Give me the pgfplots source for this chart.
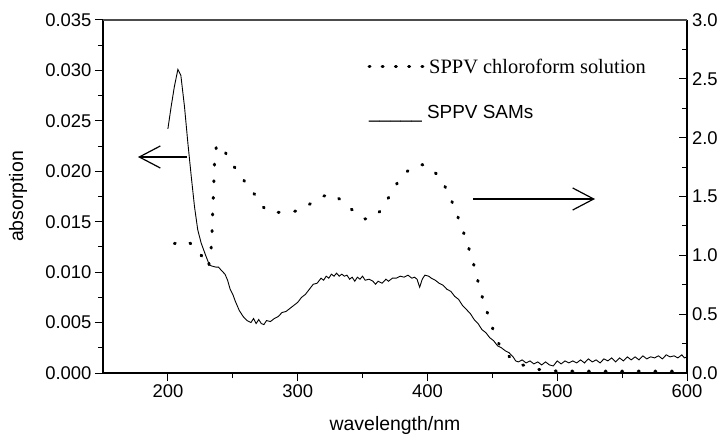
\documentclass[border=0pt]{standalone}
\usepackage{fontspec}
\setmainfont{Liberation Sans}
\newfontfamily\timesfont{Liberation Serif}
\usepackage{pgfplots}
\usepackage{pgfplotstable}
\pgfplotsset{compat=1.18}
\usetikzlibrary{arrows.meta}

% SPPV SAMs, left axis
\pgfplotstableread{
wl a
200 0.0242
202.5 0.0264
205 0.0284
207.7 0.0301
210 0.0295
212.8 0.0264
215.4 0.0228
218 0.0195
220.5 0.0165
223 0.0142
225.6 0.0129
229 0.0117
232 0.0107
234 0.0106
237 0.0105
239 0.0105
241 0.0102
244 0.0098
246 0.0092
248 0.0083
250 0.0078
252 0.0071
255 0.0062
258 0.0056
261 0.0052
264 0.0050
266 0.0054
268 0.0049
270 0.0053
272 0.0049
274 0.0048
276 0.0052
279 0.0051
282 0.0054
285 0.0056
288 0.0060
291 0.0061
294 0.0064
297 0.0067
300 0.0070
303 0.0075
306 0.0078
309 0.0083
312 0.0088
315 0.0089
318 0.0094
320 0.0092
322 0.0096
324 0.0094
326 0.0098
328 0.0096
330 0.0099
332 0.0096
334 0.0098
336 0.0096
338 0.0097
340 0.0093
342 0.0095
344 0.0091
346 0.0095
348 0.0093
350 0.0096
352 0.0092
355 0.0093
358 0.0091
360 0.0088
362 0.0091
365 0.0089
368 0.0093
370 0.0091
373 0.0094
376 0.0094
379 0.0096
382 0.0095
385 0.0097
388 0.0094
390 0.0095
392 0.0093
394 0.0085
396 0.0093
398 0.0097
401 0.0096
403 0.0094
406 0.0092
409 0.0089
412 0.0087
415 0.0083
418 0.0081
421 0.0076
424 0.0073
427 0.0067
430 0.0063
433 0.0059
436 0.0053
439 0.0049
442 0.0043
445 0.0040
448 0.0035
451 0.0032
454 0.0027
457 0.0025
460 0.0022
463 0.0020
466 0.0016
468 0.0012
470 0.0011
473 0.0013
476 0.0010
479 0.0012
482 0.0009
485 0.0011
488 0.0008
491 0.0011
494 0.0008
497 0.0007
500 0.0012
503 0.0009
506 0.0012
509 0.0010
512 0.0012
515 0.0010
518 0.0013
521 0.0010
524 0.0014
527 0.0011
530 0.0013
533 0.0010
536 0.0014
539 0.0012
542 0.0015
545 0.0011
548 0.0015
551 0.0012
554 0.0016
557 0.0013
560 0.0016
563 0.0013
566 0.0017
569 0.0014
572 0.0016
575 0.0015
578 0.0017
581 0.0014
584 0.0018
587 0.0016
590 0.0017
593 0.0015
596 0.0018
598 0.0015
600 0.0016
}\samsdata

% SPPV chloroform solution, right axis
\pgfplotstableread{
wl a
205 1.10
210 1.12
215 1.12
220 1.08
224 1.03
228 0.96
231 0.90
233 0.98
234 1.20
235 1.50
236 1.80
237.5 1.94
240 1.93
243 1.90
249 1.78
255 1.70
259 1.63
264 1.56
268 1.50
272 1.43
276 1.38
282 1.36
288 1.37
295 1.37
301 1.38
307 1.42
313 1.46
319 1.50
325 1.52
329 1.51
333 1.47
338 1.42
344 1.37
348 1.33
352 1.31
356 1.31
360 1.34
364 1.38
368 1.45
371 1.51
375 1.58
378 1.64
384 1.71
390 1.76
396 1.77
402 1.75
407 1.69
412 1.62
415 1.55
418 1.48
421 1.40
423 1.34
427 1.22
431 1.09
435 0.95
438 0.82
441 0.69
445 0.55
449 0.42
453 0.29
457 0.21
461 0.16
467 0.10
473 0.07
480 0.045
486 0.03
493 0.02
499 0.017
520 0.015
550 0.015
575 0.015
600 0.015
}\soldata

\tikzset{dotline/.style={line width=3bp, line cap=round, dash pattern=on 1bp off 15.6bp}}
\newcommand{\tickfont}{\fontsize{18.5}{21}\selectfont}
\newcommand{\labfont}{\fontsize{19.5}{22}\selectfont}

\begin{document}
\begin{tikzpicture}
\path[use as bounding box] (-103bp,-63bp) rectangle (617bp,373bp);

\begin{axis}[
  at={(0,0)}, anchor=south west,
  scale only axis, width=584bp, height=353bp,
  xmin=150, xmax=600, ymin=0, ymax=0.035,
  axis x line*=bottom, axis y line*=left,
  axis line style={-, line width=1.2bp, black},
  tick align=outside,
  major tick length=8bp, minor tick length=5bp,
  tick style={black, line width=1bp},
  xtick={200,300,400,500,600}, minor x tick num=1,
  ytick={0,0.005,0.01,0.015,0.02,0.025,0.03,0.035}, minor y tick num=1,
  scaled y ticks=false,
  tick label style={font=\tickfont},
  /pgf/number format/assume math mode=true,
  yticklabel style={/pgf/number format/.cd, fixed, fixed zerofill, precision=3},
  xlabel={wavelength/nm},
  ylabel={absorption},
  every axis x label/.style={at={(axis description cs:0.5,-0.150)}, anchor=center, font=\labfont},
  every axis y label/.style={at={(axis description cs:-0.1455,0.5)}, rotate=90, anchor=center, font=\labfont},
]
\addplot[black, line width=0.9bp] table[x=wl, y=a] {\samsdata};
\end{axis}

\begin{axis}[
  at={(0,0)}, anchor=south west,
  scale only axis, width=584bp, height=353bp,
  xmin=150, xmax=600, ymin=0, ymax=3,
  axis x line=none, axis y line*=right,
  axis line style={-, line width=1.2bp, black},
  tick align=inside,
  major tick length=8bp, minor tick length=5bp,
  tick style={black, line width=1bp},
  ytick={0,0.5,1,1.5,2,2.5,3}, minor y tick num=1,
  tick label style={font=\tickfont},
  /pgf/number format/assume math mode=true,
  yticklabel style={xshift=1.5bp, /pgf/number format/.cd, fixed, fixed zerofill, precision=1},
]
\addplot[black, dotline] table[x=wl, y=a] {\soldata};
\end{axis}

% top frame line
\draw[line width=1.8bp, black!70] (0,353bp) -- (584bp,353bp);

% arrows
\draw[line width=1.2bp, -{Straight Barb[length=21bp, width=22bp]}] (84bp,216bp) -- (35bp,216bp);
\draw[line width=1.2bp, -{Straight Barb[length=21bp, width=22bp]}] (370bp,174bp) -- (492bp,174bp);

% legend
\draw[dotline, dash pattern=on 1bp off 12.2bp] (266bp,306bp) -- (320bp,306bp);
\node[anchor=base west, inner sep=0pt, font=\timesfont\fontsize{20.5}{24}\selectfont] at (326bp,299bp) {SPPV chloroform solution};
\node[anchor=base west, inner sep=0pt, font=\fontsize{19}{22}\selectfont] at (266bp,254bp) {\_\_\_\_\_ SPPV SAMs};
\end{tikzpicture}
\end{document}
